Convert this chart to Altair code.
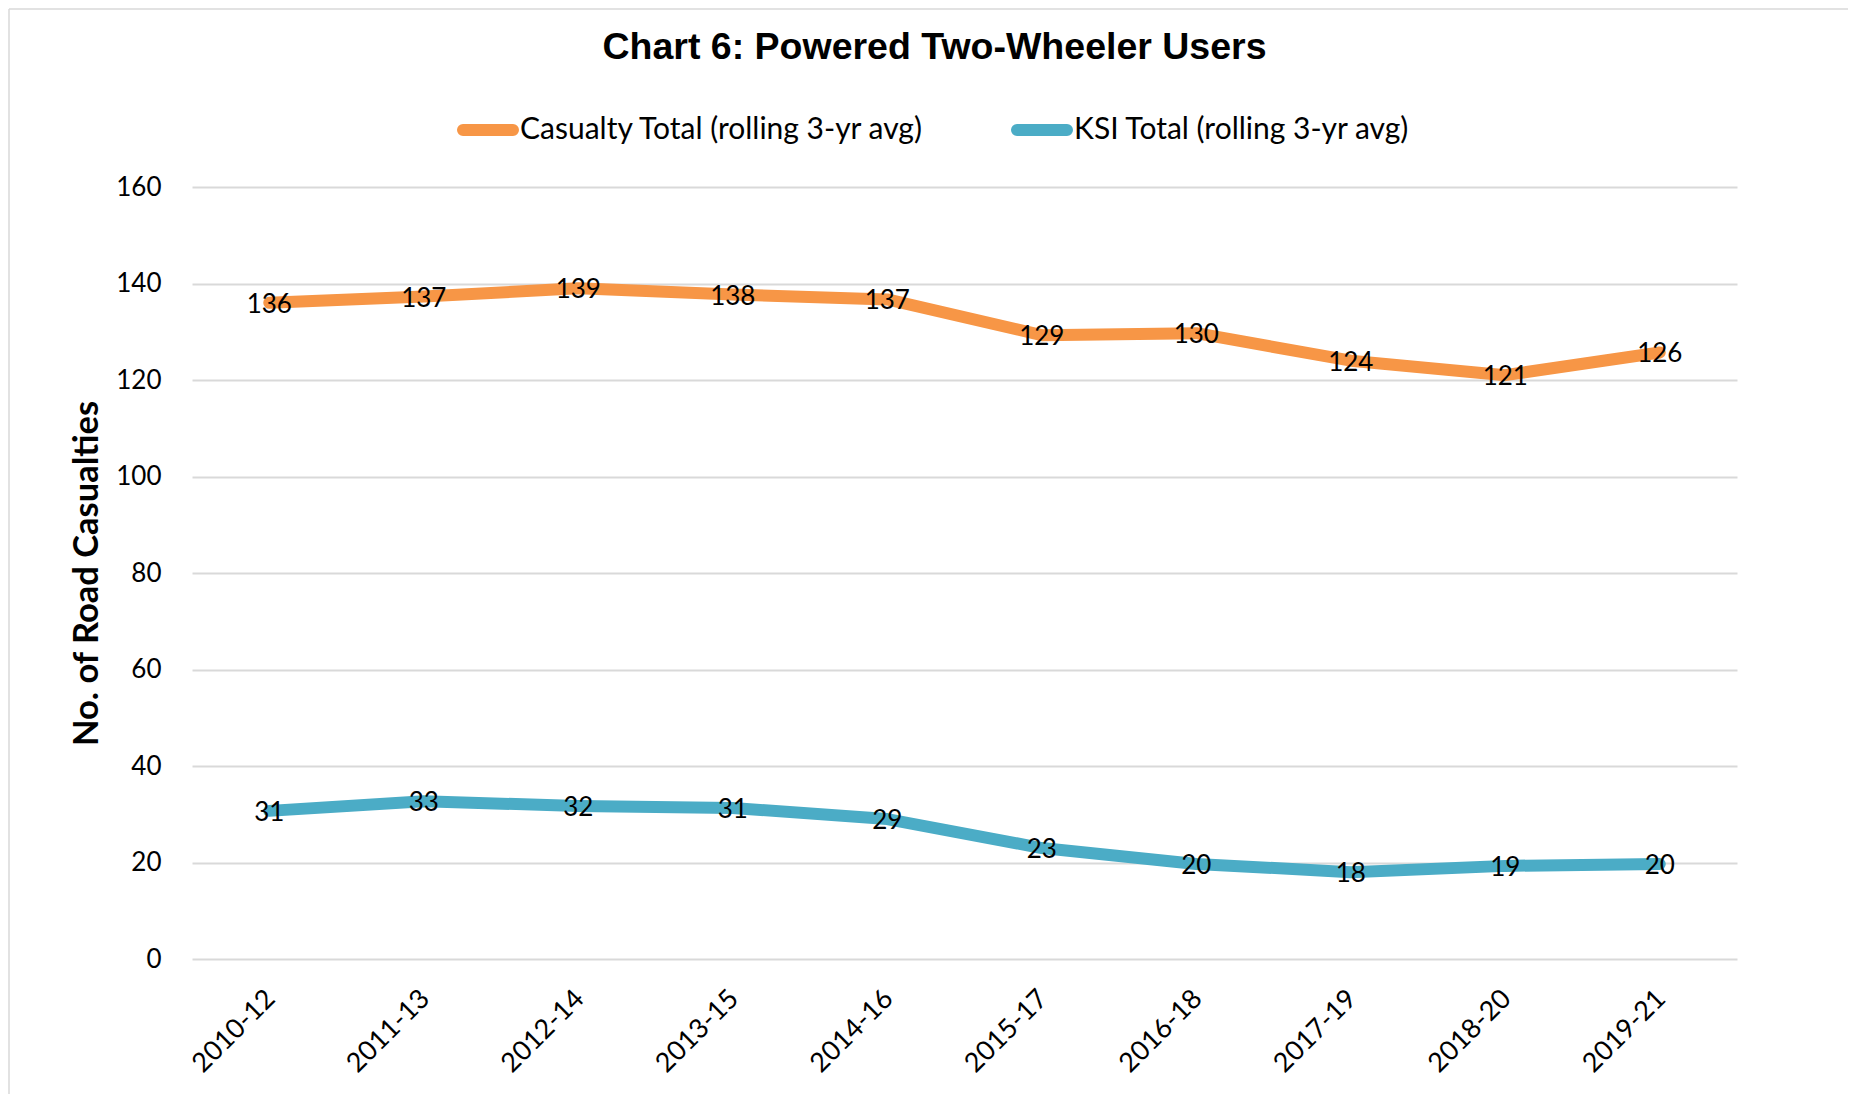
import altair as alt
import pandas as pd

periods = ["2010-12", "2011-13", "2012-14", "2013-15", "2014-16",
           "2015-17", "2016-18", "2017-19", "2018-20", "2019-21"]
casualty = [136.0, 137.3, 139.0, 137.7, 136.7, 129.3, 129.7, 124.0, 121.0, 125.7]
ksi = [30.7, 32.7, 31.7, 31.3, 29.0, 23.0, 19.7, 18.0, 19.3, 19.7]
series_names = ["Casualty Total (rolling 3-yr avg)", "KSI Total (rolling 3-yr avg)"]
series_colors = ["#F79646", "#4BACC6"]
y_ticks = [0, 20, 40, 60, 80, 100, 120, 140, 160]

# pill-shaped legend symbol (rounded line ends), in Vega's [-1, 1] symbol space
pill_path = ("M-0.893,-0.107L0.893,-0.107A0.107,0.107,0,0,1,0.893,0.107"
             "L-0.893,0.107A0.107,0.107,0,0,1,-0.893,-0.107Z")

rows = []
for p, c, k in zip(periods, casualty, ksi):
    rows.append({"period": p, "series": series_names[0], "value": c})
    rows.append({"period": p, "series": series_names[1], "value": k})
df = pd.DataFrame(rows)

x_enc = alt.X(
    "period:O", sort=periods,
    scale=alt.Scale(type="point", padding=0.5),
    axis=alt.Axis(title=None, labelAngle=315, labelAlign="right", labelBaseline="top",
                  labelFont="Lato", labelFontSize=27, labelColor="#000000",
                  labelPadding=26, labelOffset=-8, ticks=False, tickSize=0,
                  domain=False, grid=False),
)
y_enc = alt.Y(
    "value:Q",
    scale=alt.Scale(domain=[0, 160], nice=False),
    axis=alt.Axis(values=y_ticks, title="No. of Road Casualties",
                  titleFont="Lato", titleFontWeight="bold", titleFontSize=34.5,
                  titleColor="#000000", titleAngle=270, titleX=-95, titleY=386,
                  titleAlign="center", titleBaseline="alphabetic",
                  labelFont="Lato", labelFontSize=26, labelColor="#000000",
                  labelPadding=31, ticks=False, tickSize=0, domain=False,
                  grid=True, gridColor="#d9d9d9", gridWidth=2),
)

lines = alt.Chart(df).mark_line(strokeWidth=12, strokeCap="round", strokeJoin="round").encode(
    x=x_enc, y=y_enc,
    color=alt.Color("series:N",
                    scale=alt.Scale(domain=series_names, range=series_colors),
                    legend=alt.Legend(title=None, orient="none", legendX=265, legendY=-88,
                                      direction="horizontal", symbolType=pill_path,
                                      symbolSize=3136, symbolStrokeWidth=6,
                                      labelFont="Lato", labelFontSize=30,
                                      labelColor="#000000", labelOffset=1,
                                      columnPadding=77, labelLimit=0, padding=0)),
)

labels = alt.Chart(df).mark_text(font="Lato", fontSize=26, color="#000000", dy=2).encode(
    x=alt.X("period:O", sort=periods),
    y=alt.Y("value:Q"),
    text=alt.Text("value:Q", format=".0f"),
    detail="series:N",
)

frame_data = alt.Data(values=[{"edge": "frame"}])
border_left = alt.Chart(frame_data).mark_rule(color="#d9d9d9", strokeWidth=1.5).encode(
    x=alt.value(-183), y=alt.value(-178), y2=alt.value(915)
)
border_top = alt.Chart(frame_data).mark_rule(color="#d9d9d9", strokeWidth=1.5).encode(
    x=alt.value(-183), x2=alt.value(1664), y=alt.value(-178)
)

chart = alt.layer(border_left, border_top, lines, labels).properties(
    width=1545, height=772,
    title=alt.TitleParams("Chart 6: Powered Two-Wheeler Users", font="Liberation Sans",
                          fontSize=37.5, fontWeight="bold", color="#000000",
                          anchor="middle", frame="group", dx=-30, offset=-58),
    autosize=alt.AutoSizeParams(type="none"),
    padding={"left": 184, "top": 179, "right": 111, "bottom": 135},
).configure(background="white", view=alt.ViewConfig(stroke=None))

chart.save("out.html", embed_options={"renderer": "svg", "actions": False})
